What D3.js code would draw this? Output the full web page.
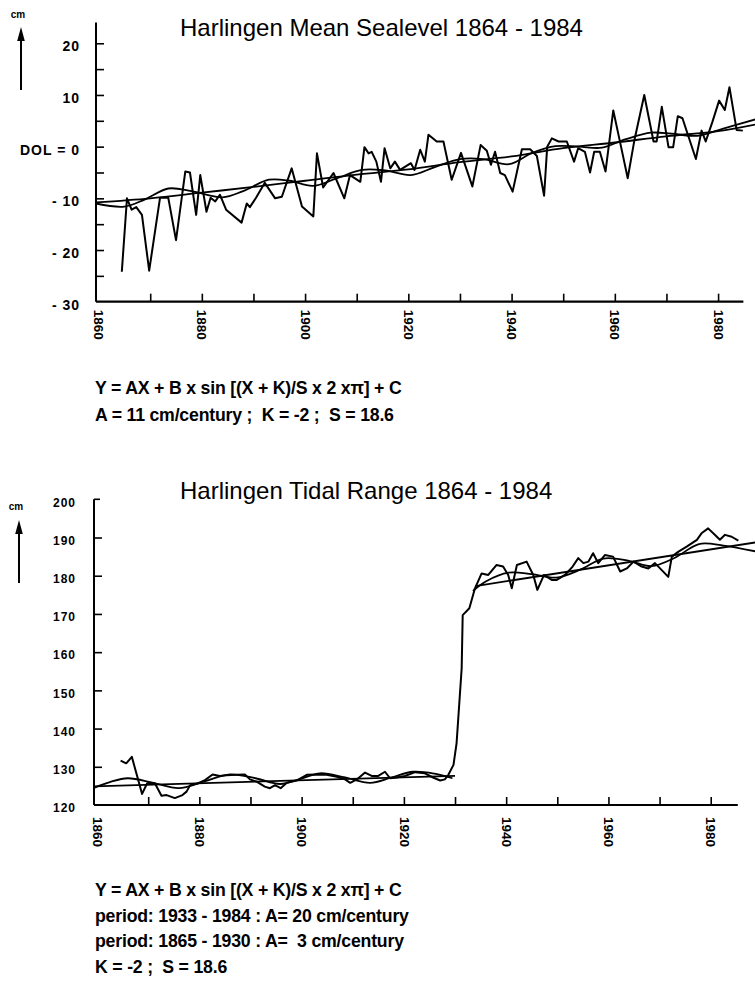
<!DOCTYPE html>
<html><head><meta charset="utf-8">
<script src="https://cdn.jsdelivr.net/npm/d3@7"></script>
<style>
body{margin:0;background:#fff;}
svg{display:block;font-family:"Liberation Sans",Arial,Helvetica,sans-serif;}
</style></head><body>
<script>
// ---------- DATA ----------
const titleTop = "Harlingen Mean Sealevel 1864 - 1984";
const titleBottom = "Harlingen Tidal Range 1864 - 1984";
const unitLabel = "cm";

const topLabelValues = [20, 10, 0, -10, -20, -30];
const topLabelTexts = ["20", "10", "DOL = 0", "- 10", "- 20", "- 30"];
const topMinorTicks = [20, 15, 10, 5, 0, -5, -10, -15, -20, -25];

const bottomLabelValues = [200, 190, 180, 170, 160, 150, 140, 130, 120];
const bottomTickValues = [200, 190, 180, 170, 160, 150, 140, 130];

const xLabelYears = [1860, 1880, 1900, 1920, 1940, 1960, 1980];
const xTickYears = [1870, 1880, 1890, 1900, 1910, 1920, 1930, 1940, 1950, 1960, 1970, 1980];

// annual mean sea level (cm relative to DOL)
const seaLevel = [
 [1864.5,-24.2],[1865.5,-10.0],[1866.4,-12.2],[1867.3,-11.7],[1868.4,-13.2],[1869.8,-24.0],
 [1871.9,-9.9],[1873.5,-9.9],[1875.0,-18.1],[1876.8,-4.8],[1877.7,-5.0],[1878.9,-13.2],
 [1879.7,-5.5],[1880.9,-12.6],[1881.7,-9.9],[1882.6,-10.6],[1883.5,-9.3],[1884.7,-12.2],
 [1887.7,-14.7],[1888.7,-11.0],[1889.3,-11.7],[1890.5,-9.9],[1892.2,-7.0],[1894.2,-10.0],
 [1895.5,-9.7],[1897.4,-4.2],[1899.4,-11.6],[1901.6,-13.5],[1902.3,-1.3],[1903.5,-7.9],
 [1905.5,-5.1],[1907.6,-10.0],[1908.7,-5.5],[1910.7,-6.8],[1911.5,-0.1],[1912.3,-1.3],
 [1912.9,-1.0],[1913.8,-2.9],[1914.7,-6.8],[1915.4,-0.3],[1916.5,-4.2],[1917.4,-2.9],
 [1918.4,-4.5],[1920.5,-3.2],[1921.2,-4.5],[1922.3,-0.6],[1923.2,-2.9],[1923.9,2.3],
 [1925.5,1.0],[1926.8,1.0],[1928.4,-6.4],[1930.2,-1.2],[1932.4,-7.7],[1934.0,0.3],
 [1935.2,-0.8],[1936.0,-3.5],[1936.8,-1.0],[1937.8,-5.1],[1938.7,-5.5],[1940.2,-8.7],
 [1942.0,-0.5],[1943.6,-0.5],[1944.9,-1.8],[1946.3,-9.5],[1946.9,0.0],[1947.8,1.6],
 [1949.1,1.0],[1950.7,1.0],[1952.1,-2.9],[1952.9,-0.3],[1954.2,-1.0],[1955.2,-5.0],
 [1956.0,-1.0],[1957.1,-1.0],[1958.2,-4.8],[1959.7,7.0],[1961.2,0.0],[1962.5,-6.1],
 [1963.8,1.3],[1965.7,10.0],[1967.5,1.0],[1968.1,1.0],[1969.1,7.7],[1970.4,-0.1],
 [1971.3,-0.1],[1972.2,5.9],[1973.1,5.5],[1975.7,-2.4],[1976.8,3.1],[1977.6,1.0],
 [1978.9,4.8],[1980.2,8.9],[1981.3,7.1],[1982.2,11.5],[1983.6,3.2],[1984.8,3.1]
];
// fitted curve (trend + 18.6 yr cycle)
const seaFit = [
 [1859.5,-11.0],[1865,-11.6],[1869,-10.2],[1873.5,-8.1],[1878,-8.6],[1884,-9.8],[1888,-8.6],
 [1893,-6.4],[1897,-6.6],[1901.5,-7.6],[1906,-6.2],[1911,-4.5],[1915.5,-4.6],[1920.5,-5.5],
 [1925,-4.0],[1930,-2.4],[1934.5,-2.4],[1939.5,-3.4],[1944,-1.2],[1948.5,0.1],[1953,0.0],
 [1957.5,-0.2],[1962,1.4],[1967,2.7],[1971,2.5],[1976,2.1],[1981,3.5],[1987.3,5.3]
];
// nearly straight trend curve
const seaTrend = [
 [1859.5,-10.8],[1870,-10.0],[1880,-8.9],[1890,-7.8],[1900,-6.6],[1910,-5.4],[1920,-4.4],
 [1930,-3.0],[1940,-1.9],[1950,-0.3],[1960,0.8],[1970,2.0],[1980,3.0],[1987.3,4.3]
];

// annual mean tidal range (cm)
const tidalRange = [
 [1864.6,131.6],[1865.7,130.9],[1866.8,132.6],[1868.8,122.9],[1869.8,125.7],[1871.3,125.7],
 [1872.6,122.4],[1873.6,122.6],[1875.2,121.8],[1876.7,122.6],[1877.5,123.5],[1878.2,125.2],
 [1879.8,125.7],[1881.1,126.5],[1882.6,128.0],[1884.0,127.6],[1885.3,127.8],[1887.3,127.9],
 [1888.9,128.0],[1889.9,126.7],[1891.2,126.1],[1892.8,124.8],[1893.8,124.4],[1894.8,125.2],
 [1895.9,124.4],[1897.1,125.8],[1899.0,126.4],[1901.0,127.9],[1902.9,128.0],[1904.9,127.9],
 [1906.9,127.4],[1908.5,126.7],[1909.5,125.8],[1910.8,126.7],[1912.4,128.5],[1913.7,127.6],
 [1915.0,127.6],[1916.3,128.7],[1917.3,127.0],[1918.6,127.2],[1920.2,127.6],[1922.2,128.6],
 [1924.1,128.3],[1925.7,127.2],[1927.1,126.4],[1928.0,126.7],[1928.7,127.9],[1929.7,130.5],
 [1930.3,136.1],[1931.3,155.8],[1931.5,169.7],[1932.8,171.5],[1933.9,176.7],[1935.2,180.6],
 [1936.5,180.2],[1938.1,182.8],[1939.4,182.4],[1940.4,180.2],[1941.1,176.7],[1942.1,182.8],
 [1944.0,183.7],[1945.3,180.2],[1946.1,176.3],[1947.4,180.2],[1948.9,178.9],[1949.9,178.9],
 [1951.5,180.2],[1953.0,182.4],[1954.1,184.6],[1955.1,183.3],[1956.1,183.7],[1957.0,185.9],
 [1958.0,183.3],[1959.3,185.4],[1960.9,185.0],[1962.3,181.1],[1963.6,181.9],[1964.9,183.7],
 [1966.5,182.4],[1967.8,181.9],[1969.1,183.3],[1971.7,179.7],[1972.4,185.0],[1973.7,186.3],
 [1975.3,187.6],[1977.3,189.4],[1978.2,191.1],[1979.5,192.4],[1980.8,190.7],[1981.8,189.4],
 [1982.8,190.7],[1984.1,190.2],[1985.4,189.2]
];
const tideFitEarly = [
 [1859.4,124.5],[1862.5,126.0],[1866,127.0],[1871,125.8],[1876,124.4],[1881,126.2],[1886,128.0],
 [1891,127.0],[1895.8,125.5],[1899.7,126.8],[1903.6,128.3],[1908.5,127.2],[1913.4,125.8],
 [1917.6,127.2],[1921.8,128.7],[1926,128.2],[1929.5,127.0]
];
const tideTrendEarly = [[1859.4,124.9],[1930,127.6]];
const tideFitLate = [
 [1933.5,176.0],[1936,178.5],[1940.5,180.8],[1945,180.4],[1949.8,179.5],[1954.5,181.6],
 [1959,184.5],[1964,183.9],[1968.4,182.5],[1973,184.7],[1977.7,188.3],[1982.5,187.9],[1988.7,186.4]
];
const tideTrendLate = [[1934,177.3],[1988.7,188.7]];

const notesTop = [
 "Y = AX + B x sin [(X + K)/S x 2 x\u03c0] + C",
 "A = 11 cm/century ;  K = -2 ;  S = 18.6"
];
const notesBottom = [
 "Y = AX + B x sin [(X + K)/S x 2 x\u03c0] + C",
 "period: 1933 - 1984 : A= 20 cm/century",
 "period: 1865 - 1930 : A=  3 cm/century",
 "K = -2 ;  S = 18.6"
];

// ---------- DRAW ----------
const svg = d3.select("body").append("svg").attr("width", 755).attr("height", 994);

function unitArrow(x, textY, tipY, baseY) {
  svg.append("text").attr("x", x - 3).attr("y", textY).attr("text-anchor", "middle")
    .style("font-size", "10px").style("font-weight", "bold").text(unitLabel);
  svg.append("line").attr("x1", x).attr("x2", x).attr("y1", tipY + 10).attr("y2", baseY)
    .attr("stroke", "#000").attr("stroke-width", 2);
  svg.append("path").attr("d", `M${x},${tipY}L${x-3.8},${tipY+14}L${x+3.8},${tipY+14}Z`).attr("fill", "#000");
}

function panel(cfg) {
  const x = d3.scaleLinear().domain(cfg.xDomain).range(cfg.xRange);
  const y = d3.scaleLinear().domain(cfg.yDomain).range(cfg.yRange);
  const g = svg.append("g");
  const x0 = cfg.xRange[0], yBase = y(cfg.yDomain[0]);

  g.append("text").attr("x", cfg.titleX).attr("y", cfg.titleY)
    .style("font-size", "24px").text(cfg.title);

  g.append("line").attr("x1", x0).attr("x2", x0).attr("y1", y(cfg.yDomain[1])).attr("y2", yBase)
    .attr("stroke", "#000").attr("stroke-width", 2);
  g.append("line").attr("x1", x0).attr("x2", x(cfg.xAxisEnd)).attr("y1", yBase).attr("y2", yBase)
    .attr("stroke", "#000").attr("stroke-width", 2.2);

  const yt = g.append("g").attr("transform", `translate(${x0},0)`)
    .call(d3.axisLeft(y).tickValues(cfg.yTicks).tickSize(-8).tickFormat(""));
  yt.select(".domain").remove();
  yt.selectAll("line").attr("stroke-width", 1.6);
  if (cfg.topStub) {
    g.append("line").attr("x1", x0).attr("x2", x0 + 6).attr("y1", y(cfg.yDomain[1])).attr("y2", y(cfg.yDomain[1]))
      .attr("stroke", "#000").attr("stroke-width", 1.6);
  }
  const yl = g.append("g").attr("transform", `translate(${x0},0)`)
    .call(d3.axisLeft(y).tickValues(cfg.yLabelValues).tickSize(0).tickPadding(cfg.yPad)
      .tickFormat((d, i) => cfg.yLabelTexts[i]));
  yl.select(".domain").remove();
  yl.selectAll("text").attr("y", 3).attr("fill", "#000")
    .style("font-family", "'Liberation Sans',Arial,sans-serif")
    .style("font-weight", "bold").style("font-size", cfg.yFont).style("letter-spacing", cfg.yLS)
    .style("white-space", "pre");

  const xt = g.append("g").attr("transform", `translate(0,${yBase})`)
    .call(d3.axisBottom(x).tickValues(xTickYears).tickSize(-8).tickFormat(""));
  xt.select(".domain").remove();
  xt.selectAll("line").attr("stroke-width", 1.6);
  const xl = g.append("g").attr("transform", `translate(0,${yBase})`)
    .call(d3.axisBottom(x).tickValues(xLabelYears).tickSize(0).tickFormat(d3.format("d")));
  xl.select(".domain").remove();
  xl.selectAll("text")
    .attr("transform", "rotate(90)").attr("x", cfg.xPad).attr("y", 0).attr("dy", "0.36em")
    .style("text-anchor", "start").attr("fill", "#000")
    .style("font-family", "'Liberation Sans',Arial,sans-serif")
    .style("font-weight", "bold").style("font-size", "13.5px");

  const line = d3.line().x(d => x(d[0])).y(d => y(d[1]));
  const smooth = d3.line().x(d => x(d[0])).y(d => y(d[1])).curve(d3.curveCatmullRom.alpha(0.5));
  cfg.smoothSeries.forEach(s => g.append("path").datum(s).attr("d", smooth)
    .attr("fill", "none").attr("stroke", "#000").attr("stroke-width", 1.8));
  cfg.straightSeries.forEach(s => g.append("path").datum(s).attr("d", line)
    .attr("fill", "none").attr("stroke", "#000").attr("stroke-width", 1.8));
  g.append("path").datum(cfg.data).attr("d", line)
    .attr("fill", "none").attr("stroke", "#000").attr("stroke-width", 2)
    .attr("stroke-linejoin", "round");

  cfg.notes.forEach((t, i) => g.append("text").attr("x", 95).attr("y", cfg.notesY + i * cfg.notesDY)
    .style("font-size", "17.7px").style("font-weight", "bold").style("white-space", "pre")
    .style("letter-spacing", "-0.2px").text(t));
}

unitArrow(21, 18, 27, 90);
panel({
  title: titleTop, titleX: 180, titleY: 36,
  xDomain: [1859.5, 1987.5], xRange: [96, 756.8], xAxisEnd: 1984.9,
  yDomain: [-30, 24], yRange: [301.7, 22.6],
  yTicks: topMinorTicks, yLabelValues: topLabelValues, yLabelTexts: topLabelTexts,
  yPad: 16, yFont: "14px", yLS: "1px", xPad: 8, topStub: false,
  data: seaLevel, smoothSeries: [seaFit, seaTrend], straightSeries: [],
  notes: notesTop, notesY: 394, notesDY: 27
});

unitArrow(19, 510, 520, 583);
panel({
  title: titleBottom, titleX: 180, titleY: 499,
  xDomain: [1859.4, 1988.7], xRange: [94, 755.2], xAxisEnd: 1985.3,
  yDomain: [120, 200], yRange: [805, 499.3],
  yTicks: bottomTickValues.slice(1), yLabelValues: bottomLabelValues,
  yLabelTexts: bottomLabelValues.map(String),
  yPad: 18, yFont: "12px", yLS: "1px", xPad: 12, topStub: true,
  data: tidalRange, smoothSeries: [tideFitEarly, tideFitLate], straightSeries: [tideTrendEarly, tideTrendLate],
  notes: notesBottom, notesY: 896, notesDY: 25.5
});
</script>
</body></html>
